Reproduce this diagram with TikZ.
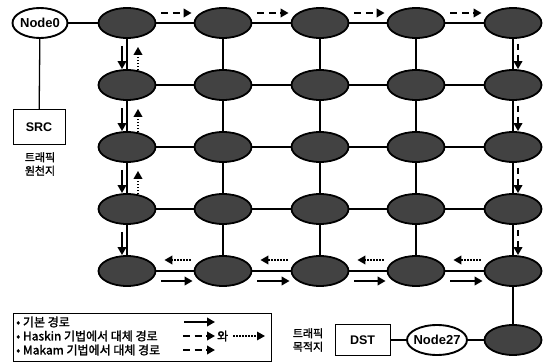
\documentclass[tikz,border=0pt]{standalone}
\usepackage{fontspec}
\setmainfont{Liberation Sans}
\newfontfamily\kr{Noto Sans CJK KR}[FakeBold=1.6]
\usetikzlibrary{shapes.geometric,arrows.meta,calc}
\begin{document}
\begin{tikzpicture}[x=1pt,y=-1pt,
 gn/.style={ellipse,draw=black,line width=1.8pt,fill=black!74,minimum width=57pt,minimum height=30pt,inner sep=0pt},
 wn/.style={ellipse,draw=black,line width=1.9pt,fill=white,minimum height=30pt,inner sep=0pt},
 wtxt/.style={font=\bfseries\fontsize{13}{13}\selectfont,inner sep=0pt},
 bx/.style={rectangle,draw=black,line width=1pt,inner sep=0pt,font=\bfseries\fontsize{12.5}{12.5}\selectfont},
 link/.style={line width=1.3pt},
 tipa/.style={-{Triangle[length=8pt,width=8.5pt]}},
 basicarr/.style={tipa,line width=2.3pt},
 makamarr/.style={tipa,line width=2.3pt,dash pattern=on 7pt off 4.5pt},
 makamv/.style={tipa,line width=2.3pt,dash pattern=on 6pt off 5pt},
 haskinarr/.style={tipa,line width=1.9pt,dash pattern=on 1.5pt off 1.5pt},
 lbl/.style={font=\kr\fontsize{11}{13.5}\selectfont,align=center,inner sep=0pt},
 legtxt/.style={font=\kr\fontsize{12}{12}\selectfont,inner sep=0pt,anchor=west},
]
\useasboundingbox (0,0) rectangle (548,363);
\fill[white] (0,0) rectangle (548,363);

% grid nodes
\foreach \r/\y in {1/23,2/85,3/147,4/209,5/271}
  \foreach \c/\x in {1/127,2/223,3/320,4/416,5/513}
    \node[gn] (c\r\c) at (\x,\y) {};
\node[gn] (c6) at (513,340) {};

% white nodes and boxes
\node[wn,minimum width=55pt,label={[wtxt]center:Node0}] (n0) at (40,23) {};
\node[wn,minimum width=60pt,label={[wtxt]center:Node27}] (n27) at (437,340) {};
\node[bx,minimum width=52pt,minimum height=35pt] (src) at (39,127.5) {SRC};
\node[bx,minimum width=55pt,minimum height=31pt] (dst) at (362.5,340) {DST};
\node[lbl] (srcl) at (40,164) {트래픽\\원천지};
\node[lbl] (dstl) at (308,340) {트래픽\\목적지};

% grid links
\foreach \r in {1,...,5}
  \foreach \c/\n in {1/2,2/3,3/4,4/5}
    \draw[link] (c\r\c) -- (c\r\n);
\foreach \r/\n in {1/2,2/3,3/4,4/5}
  \foreach \c in {1,...,5}
    \draw[link] (c\r\c) -- (c\n\c);
\draw[link] (n0) -- (c11);
\draw[link] (n0) -- (src);
\draw[link] (c55) -- (c6);
\draw[link] (c6) -- (n27);
\draw[link] (n27) -- (dst);

% Makam alternate path: row 1 and column 5
\foreach \c/\n in {1/2,2/3,3/4,4/5}
  \draw[makamarr] ([xshift=5pt,yshift=10pt]c1\c.east) -- ([xshift=-2pt,yshift=10pt]c1\n.west);
\foreach \r/\n in {1/2,2/3,3/4,4/5}
  \draw[makamv] ([xshift=5pt,yshift=-5pt]c\r5.south) -- ([xshift=5pt]c\n5.north);

% basic path: column 1 down, row 5 right
\foreach \r/\n in {1/2,2/3,3/4,4/5}
  \draw[basicarr] ([xshift=-5pt,yshift=-7pt]c\r1.south) -- ([xshift=-5pt]c\n1.north);
\foreach \c/\n in {1/2,2/3,3/4,4/5}
  \draw[basicarr] ([xshift=5pt,yshift=-10pt]c5\c.east) -- ([xshift=-1pt,yshift=-10pt]c5\n.west);

% Haskin alternate path: column 1 up, row 5 left
\foreach \r/\n in {1/2,2/3,3/4}
  \draw[haskinarr] ([xshift=11pt,yshift=-1pt]c\n1.north) -- ([xshift=11pt,yshift=-8pt]c\r1.south);
\foreach \c/\n in {1/2,2/3,3/4,4/5}
  \draw[haskinarr] ([xshift=-3pt,yshift=11pt]c5\n.west) -- ([xshift=8pt,yshift=11pt]c5\c.east);

% legend
\node[draw=black,line width=0.9pt,minimum width=258pt,minimum height=48pt,inner sep=0pt] (legend) at (142,337) {};
\node[legtxt] (l1) at (16,322) {• 기본 경로};
\node[legtxt] (l2) at (16,336) {• Haskin 기법에서 대체 경로};
\node[legtxt] (l3) at (16,350) {• Makam 기법에서 대체 경로};
\coordinate (a1s) at (184,322); \coordinate (a1e) at (215,322);
\coordinate (a2s) at (183,336); \coordinate (a2e) at (215,336);
\coordinate (a3s) at (183,350); \coordinate (a3e) at (215,350);
\coordinate (a4s) at (233,336); \coordinate (a4e) at (265,336);
\draw[basicarr,line width=2pt] (a1s) -- (a1e);
\draw[makamarr,line width=2pt] (a2s) -- (a2e);
\draw[makamarr,line width=2pt] (a3s) -- (a3e);
\node[legtxt] (wa) at (217,336) {와};
\draw[haskinarr,line width=1.6pt] (a4s) -- (a4e);
\end{tikzpicture}
\end{document}
